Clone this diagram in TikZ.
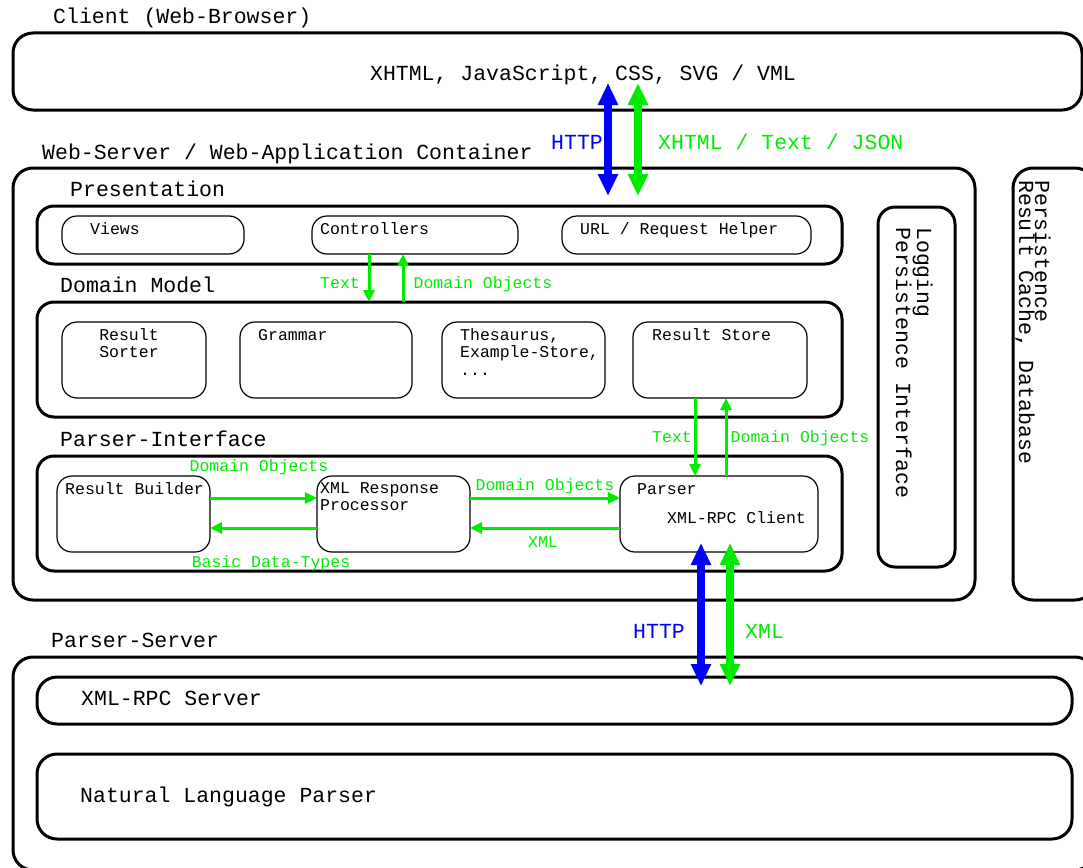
\documentclass[tikz,border=0pt]{standalone}
\usepackage{fontspec}
\setmainfont{Liberation Mono}
\usetikzlibrary{arrows.meta}
\definecolor{brgreen}{RGB}{0,235,0}
\definecolor{brblue}{RGB}{0,0,255}
\tikzset{
  bigbox/.style={draw, line width=3pt, rounded corners=20pt, inner sep=0pt, outer sep=0pt},
  midbox/.style={draw, line width=3pt, rounded corners=17pt, inner sep=0pt, outer sep=0pt},
  smallbox/.style={draw, line width=1.2pt, rounded corners=15pt, inner sep=0pt, outer sep=0pt},
  bigtxt/.style={inner sep=0pt, anchor=base west, font=\fontsize{21.5}{17}\selectfont},
  smalltxt/.style={inner sep=0pt, anchor=base west, align=left, font=\fontsize{16.5}{17.5}\selectfont},
  glabel/.style={inner sep=0pt, anchor=base, text=brgreen, font=\fontsize{16.5}{17.5}\selectfont},
  garrow/.style={draw=brgreen, line width=3pt, -{Triangle[width=11pt,length=12pt]}},
  fatarrow/.style={line width=8pt, {Triangle[width=19pt,length=22pt]}-{Triangle[width=19pt,length=22pt]}},
}
\begin{document}
\begin{tikzpicture}[x=1pt, y=-1pt]
\useasboundingbox (0,0) rectangle (1083,867);

% ---- client tier
\node[bigtxt] (clientlbl) at (53,24) {Client (Web-Browser)};
\node[bigbox, minimum width=1069pt, minimum height=77pt] (client) at (547.5,71.5) {};
\node[inner sep=0pt, anchor=base, font=\fontsize{21.5}{17}\selectfont] (clienttxt) at (583,81) {XHTML, JavaScript, CSS, SVG / VML};

% ---- web server tier
\node[bigtxt] (weblbl) at (42,159) {Web-Server / Web-Application Container};
\node[bigbox, minimum width=962pt, minimum height=432pt] (web) at (494,384) {};
\node[bigbox, minimum width=82pt, minimum height=432pt] (persist) at (1054,384) {};
\node[inner sep=0pt, rotate=-90, anchor=north west, align=left,
      font=\fontsize{21.5}{16}\selectfont] (persisttxt) at (1051,180) {Persistence\\Result Cache, Database};

% presentation layer
\node[bigtxt] (preslbl) at (70,196) {Presentation};
\node[midbox, minimum width=805pt, minimum height=58pt] (pres) at (439.5,235) {};
\node[smallbox, minimum width=182pt, minimum height=38pt] (views) at (153,235) {};
\node[smallbox, minimum width=206pt, minimum height=38pt] (controllers) at (415,235) {};
\node[smallbox, minimum width=249pt, minimum height=38pt] (urlhelper) at (686.5,235) {};
\node[smalltxt] (viewstxt) at (90,234) {Views};
\node[smalltxt] (controllerstxt) at (320,234) {Controllers};
\node[smalltxt] (urltxt) at (580,234) {URL / Request Helper};

% logging
\node[midbox, minimum width=77pt, minimum height=360pt] (logging) at (916.5,387) {};
\node[inner sep=0pt, rotate=-90, anchor=north west, align=left,
      font=\fontsize{21.5}{16}\selectfont] (loggingtxt) at (933,227) {Logging\\Persistence Interface};

% domain model layer
\node[bigtxt] (domainlbl) at (60,292) {Domain Model};
\node[midbox, minimum width=805pt, minimum height=115pt] (domain) at (439.5,359.5) {};
\node[smallbox, minimum width=144pt, minimum height=76pt] (sorter) at (134,360) {};
\node[smallbox, minimum width=172pt, minimum height=76pt] (grammar) at (326,360) {};
\node[smallbox, minimum width=163pt, minimum height=76pt] (thesaurus) at (523.5,360) {};
\node[smallbox, minimum width=174pt, minimum height=76pt] (store) at (720,360) {};
\node[smalltxt, align=center, anchor=north] (sortertxt) at (129,328) {Result\\Sorter};
\node[smalltxt] (grammartxt) at (258,340) {Grammar};
\node[smalltxt, anchor=north west] (thesaurustxt) at (460,328) {Thesaurus,\\Example-Store,\\...};
\node[smalltxt] (storetxt) at (652,340) {Result Store};

% parser interface layer
\node[bigtxt] (pilbl) at (60,446) {Parser-Interface};
\node[midbox, minimum width=805pt, minimum height=115pt] (pi) at (439.5,513.5) {};
\node[smallbox, minimum width=153pt, minimum height=76pt] (builder) at (133.5,514) {};
\node[smallbox, minimum width=153pt, minimum height=76pt] (xmlresp) at (393.5,514) {};
\node[smallbox, minimum width=198pt, minimum height=76pt] (parser) at (719,514) {};
\node[smalltxt] (buildertxt) at (65,494) {Result Builder};
\node[smalltxt, anchor=north west] (xmlresptxt) at (320,482) {XML Response\\Processor};
\node[smalltxt] (parsertxt) at (637,494) {Parser};
\node[smalltxt] (clienttxt2) at (667,523) {XML-RPC Client};

% ---- parser server tier
\node[bigtxt] (pslbl) at (51,647) {Parser-Server};
\node[bigbox, minimum width=1082pt, minimum height=213pt] (ps) at (554,763.5) {};
\node[bigbox, minimum width=1035pt, minimum height=47pt] (rpcserver) at (554.5,700.5) {};
\node[bigbox, minimum width=1035pt, minimum height=85pt] (nlp) at (554.5,796.5) {};
\node[bigtxt] (rpctxt) at (81,705) {XML-RPC Server};
\node[bigtxt] (nlptxt) at (80,802) {Natural Language Parser};

% ---- HTTP between client and web server
\coordinate (httpA) at (608,83);
\coordinate (httpB) at (608,196);
\coordinate (xhtmlA) at (638,83);
\coordinate (xhtmlB) at (638,196);
\draw[fatarrow, draw=brblue, fill=brblue] (httpA) -- (httpB);
\draw[fatarrow, draw=brgreen, fill=brgreen] (xhtmlA) -- (xhtmlB);
\node[bigtxt, anchor=base east, text=brblue] (httplbl) at (603,149) {HTTP};
\node[bigtxt, text=brgreen] (xhtmllbl) at (658,149) {XHTML / Text / JSON};

% ---- HTTP between parser interface and parser server
\coordinate (rpcA) at (701,543);
\coordinate (rpcB) at (701,686);
\coordinate (xmlA) at (730,543);
\coordinate (xmlB) at (730,686);
\draw[fatarrow, draw=brblue, fill=brblue] (rpcA) -- (rpcB);
\draw[fatarrow, draw=brgreen, fill=brgreen] (xmlA) -- (xmlB);
\node[bigtxt, anchor=base east, text=brblue] (httplbl2) at (685,638) {HTTP};
\node[bigtxt, text=brgreen] (xmllbl2) at (745,638) {XML};

% ---- controllers <-> domain model
\draw[garrow] ([xshift=57pt]controllers.south west) -- ([xshift=57pt]controllers.south west |- domain.north);
\draw[garrow] ([xshift=91pt]controllers.south west |- domain.north) -- ([xshift=91pt]controllers.south west);
\node[glabel] (t1) at (340,288) {Text};
\node[glabel] (d1) at (483,288) {Domain Objects};

% ---- result store <-> parser
\draw[garrow] ([xshift=62pt]store.south west) -- ([xshift=62pt]store.south west |- parser.north);
\draw[garrow] ([xshift=93pt]store.south west |- parser.north) -- ([xshift=93pt]store.south west);
\node[glabel] (t2) at (672,442) {Text};
\node[glabel] (d2) at (800,442) {Domain Objects};

% ---- result builder <-> xml response processor
\draw[garrow] ([yshift=16pt]builder.east) -- ([yshift=16pt]builder.east -| xmlresp.west);
\draw[garrow] ([yshift=-14pt]xmlresp.west) -- ([yshift=-14pt]xmlresp.west -| builder.east);
\node[glabel] (d3) at (259,471) {Domain Objects};
\node[glabel] (b3) at (271,567) {Basic Data-Types};

% ---- xml response processor <-> parser
\draw[garrow] ([yshift=16pt]xmlresp.east) -- ([yshift=16pt]xmlresp.east -| parser.west);
\draw[garrow] ([yshift=-14pt]parser.west) -- ([yshift=-14pt]parser.west -| xmlresp.east);
\node[glabel] (d4) at (545,490) {Domain Objects};
\node[glabel] (x4) at (543,547) {XML};
\end{tikzpicture}
\end{document}
